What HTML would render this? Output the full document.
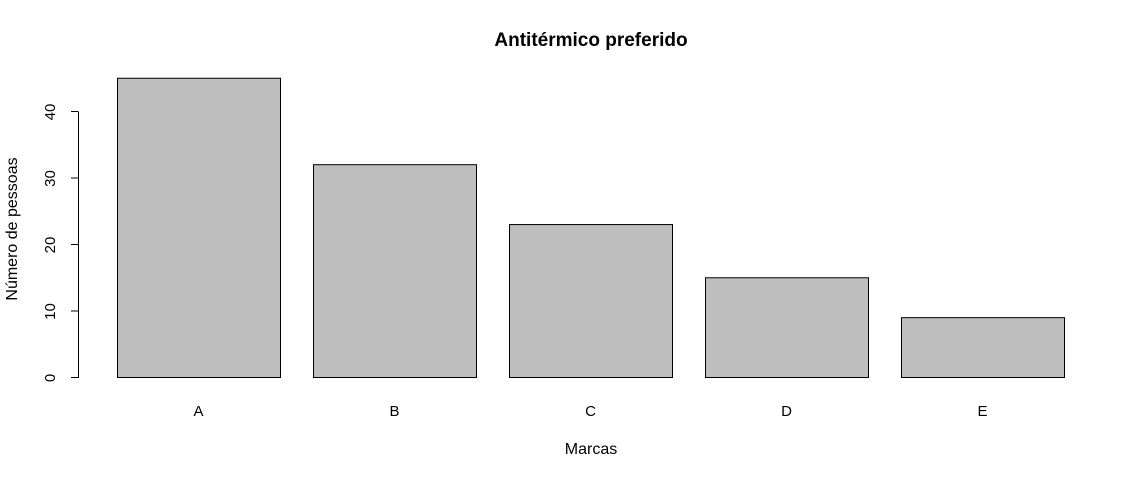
<!DOCTYPE html>
<html><head><meta charset="utf-8"><style>body{margin:0;background:#fff}svg{display:block}text{font-family:"Liberation Sans",sans-serif;fill:#000}</style></head>
<body>
<svg id="chart" width="1143" height="479">
<text x="591" y="46" text-anchor="middle" font-size="19" font-weight="bold">Antitérmico preferido</text>
<text x="591" y="454" text-anchor="middle" font-size="16">Marcas</text>
<text transform="translate(17,229) rotate(-90)" text-anchor="middle" font-size="16">Número de pessoas</text>
<g id="bars"></g><g id="yaxis"></g><g id="xlabels"></g>
</svg>
<script>
const categories = ["A","B","C","D","E"];
const values = [45,32,23,15,9];
const yTicks = [0,10,20,30,40];
const ns = "http://www.w3.org/2000/svg";
function y(v){return 378 - v*6.65;}
function xLeft(i){return 117 + i*196;}
const bw = 163;
const bars = document.getElementById('bars');
categories.forEach((c,i)=>{
  const r = document.createElementNS(ns,'rect');
  r.setAttribute('x', xLeft(i)+0.5); r.setAttribute('y', y(values[i])-0.5);
  r.setAttribute('width', bw); r.setAttribute('height', y(0)-y(values[i]));
  r.setAttribute('fill','#bebebe'); r.setAttribute('stroke','#000'); r.setAttribute('stroke-width','1');
  
  
  bars.appendChild(r);
  const t = document.createElementNS(ns,'text');
  t.setAttribute('x', xLeft(i)+bw/2); t.setAttribute('y', 416);
  t.setAttribute('text-anchor','middle'); t.setAttribute('font-size','15');
  t.textContent = c;
  
  
  document.getElementById('xlabels').appendChild(t);
});
const ya = document.getElementById('yaxis');
const ax = document.createElementNS(ns,'line');
ax.setAttribute('x1',78.5);ax.setAttribute('x2',78.5);ax.setAttribute('y1',y(0));ax.setAttribute('y2',y(40));ax.setAttribute('stroke','#000');


ya.appendChild(ax);
yTicks.forEach(v=>{
  const l = document.createElementNS(ns,'line');
  l.setAttribute('x1',71);l.setAttribute('x2',78.5);l.setAttribute('y1',y(v)-0.5);l.setAttribute('y2',y(v)-0.5);l.setAttribute('stroke','#000');
  
  
  ya.appendChild(l);
  const t = document.createElementNS(ns,'text');
  t.setAttribute('transform','translate(55,'+y(v)+') rotate(-90)');
  t.setAttribute('text-anchor','middle'); t.setAttribute('font-size','15');
  t.textContent = v;
  
  
  ya.appendChild(t);
});
</script>
</body></html>
